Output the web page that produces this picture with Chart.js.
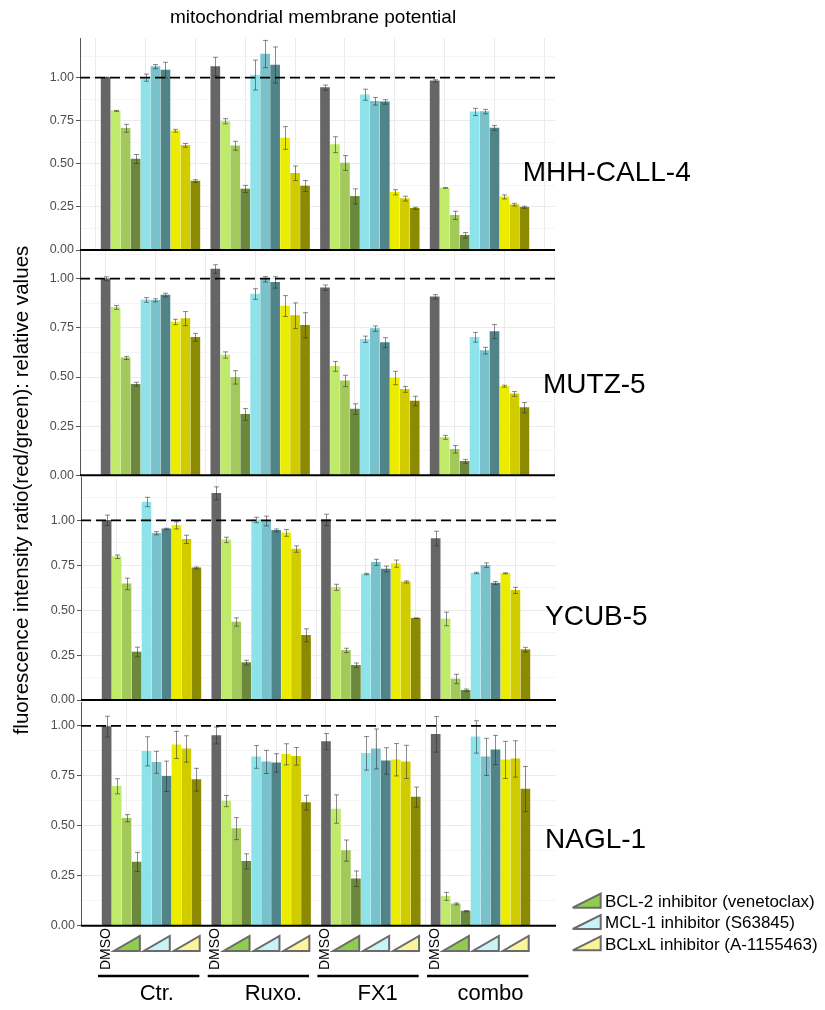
<!DOCTYPE html>
<html>
<head>
<meta charset="utf-8">
<title>mitochondrial membrane potential</title>
<script src="https://cdn.jsdelivr.net/npm/chart.js@4.4.1/dist/chart.umd.min.js"></script>
<style>
  html, body { margin: 0; padding: 0; background: #fff; }
  #page { position: relative; width: 825px; height: 1010px; overflow: hidden; background: #fff; }
  #page canvas { position: absolute; }
  #overlay { position: absolute; left: 0; top: 0; pointer-events: none; }
  #overlay text { font-family: 'Liberation Sans', Arial, Helvetica, sans-serif; fill: #000; }
</style>
</head>
<body>
<div id="page">
  <svg id="overlay" width="825" height="1010" xmlns="http://www.w3.org/2000/svg"></svg>
</div>
<script>
// ---------------------------------------------------------------------------
// Data
// ---------------------------------------------------------------------------
const chartTitle = 'mitochondrial membrane potential';
const yAxisTitle = 'fluorescence intensity ratio(red/green): relative values';
const groups = ['Ctr.', 'Ruxo.', 'FX1', 'combo'];
const cellLines = ['MHH-CALL-4', 'MUTZ-5', 'YCUB-5', 'NAGL-1'];
const controlLabel = 'DMSO';
const inhibitors = ['BCL-2 inhibitor (venetoclax)', 'MCL-1 inhibitor (S63845)', 'BCLxL inhibitor (A-1155463)'];
// bar order inside each group: DMSO, venetoclax x3 doses, S63845 x3, A-1155463 x3
const seriesNames = ['DMSO',
  'venetoclax low', 'venetoclax mid', 'venetoclax high',
  'S63845 low', 'S63845 mid', 'S63845 high',
  'A-1155463 low', 'A-1155463 mid', 'A-1155463 high'];
const yTickLabels = [0, 0.25, 0.5, 0.75, 1.0];
const referenceLevel = 1.0;

// relative values, one row of 10 bars per treatment group (Ctr., Ruxo., FX1, combo)
const mhhMean = [
  1.000, 0.807, 0.706, 0.528, 1.000, 1.064, 1.044, 0.692, 0.607, 0.400,
  1.064, 0.747, 0.605, 0.354, 1.015, 1.137, 1.073, 0.650, 0.445, 0.371,
  0.942, 0.611, 0.505, 0.311, 0.901, 0.863, 0.859, 0.335, 0.298, 0.242,
  0.981, 0.360, 0.201, 0.085, 0.801, 0.803, 0.708, 0.308, 0.263, 0.248
];
const mhhErr = [
  0.003, 0.003, 0.023, 0.026, 0.021, 0.012, 0.045, 0.008, 0.011, 0.008,
  0.054, 0.015, 0.026, 0.021, 0.087, 0.079, 0.105, 0.066, 0.042, 0.032,
  0.015, 0.046, 0.043, 0.044, 0.032, 0.022, 0.013, 0.015, 0.014, 0.006,
  0.007, 0.002, 0.024, 0.016, 0.021, 0.013, 0.014, 0.012, 0.008, 0.006
];
const mutzMean = [
  1.000, 0.854, 0.597, 0.463, 0.892, 0.890, 0.917, 0.780, 0.797, 0.702,
  1.049, 0.612, 0.498, 0.310, 0.922, 0.997, 0.981, 0.861, 0.812, 0.763,
  0.954, 0.554, 0.480, 0.337, 0.692, 0.746, 0.675, 0.495, 0.437, 0.378,
  0.908, 0.193, 0.132, 0.071, 0.702, 0.634, 0.731, 0.453, 0.414, 0.344
];
const mutzErr = [
  0.010, 0.010, 0.008, 0.010, 0.012, 0.008, 0.009, 0.014, 0.036, 0.020,
  0.022, 0.016, 0.034, 0.030, 0.027, 0.014, 0.029, 0.053, 0.065, 0.064,
  0.014, 0.025, 0.029, 0.027, 0.016, 0.014, 0.025, 0.034, 0.015, 0.024,
  0.011, 0.010, 0.019, 0.010, 0.025, 0.017, 0.036, 0.005, 0.012, 0.026
];
const ycubMean = [
  1.000, 0.797, 0.646, 0.267, 1.102, 0.928, 0.952, 0.972, 0.894, 0.735,
  1.150, 0.891, 0.434, 0.208, 1.002, 0.996, 0.944, 0.930, 0.840, 0.360,
  1.002, 0.627, 0.276, 0.193, 0.701, 0.766, 0.729, 0.759, 0.657, 0.455,
  0.898, 0.451, 0.117, 0.054, 0.707, 0.750, 0.651, 0.705, 0.610, 0.280
];
const ycubErr = [
  0.029, 0.010, 0.032, 0.027, 0.026, 0.009, 0.004, 0.020, 0.023, 0.005,
  0.036, 0.015, 0.023, 0.013, 0.015, 0.027, 0.008, 0.019, 0.018, 0.036,
  0.032, 0.017, 0.012, 0.013, 0.004, 0.017, 0.016, 0.020, 0.006, 0.002,
  0.041, 0.038, 0.026, 0.007, 0.004, 0.013, 0.009, 0.003, 0.017, 0.013
];
const naglMean = [
  0.997, 0.698, 0.538, 0.319, 0.873, 0.818, 0.748, 0.905, 0.885, 0.731,
  0.952, 0.624, 0.486, 0.322, 0.845, 0.820, 0.815, 0.858, 0.848, 0.616,
  0.922, 0.584, 0.376, 0.235, 0.863, 0.885, 0.825, 0.831, 0.820, 0.644,
  0.958, 0.147, 0.109, 0.073, 0.945, 0.845, 0.880, 0.830, 0.835, 0.684
];
const naglErr = [
  0.052, 0.038, 0.018, 0.048, 0.073, 0.055, 0.076, 0.068, 0.066, 0.057,
  0.042, 0.028, 0.055, 0.038, 0.057, 0.058, 0.046, 0.053, 0.044, 0.037,
  0.040, 0.071, 0.053, 0.039, 0.084, 0.100, 0.066, 0.081, 0.083, 0.050,
  0.089, 0.020, 0.005, 0.003, 0.081, 0.093, 0.073, 0.093, 0.091, 0.113
];

// ---------------------------------------------------------------------------
// Styling and layout
// ---------------------------------------------------------------------------
const FONT = "'Liberation Sans', Arial, Helvetica, sans-serif";
Chart.defaults.font.family = FONT;

const seriesColors = ['#666666',
  '#c0ea6a', '#a2c95a', '#6b893c',
  '#8ee2ea', '#79c2cc', '#508488',
  '#ecec00', '#d1cc00', '#8c8a00'];
const markerFills = ['#90cd4f', '#c8f3f7', '#faf59b'];

const BARS_PER_GROUP = 10;
const GROUP_STRIDE = 11;        // one empty slot between treatment groups
const X_MIN = -2.57, X_MAX = 45.07;
const PAD = 12;
const CANVAS_W = 560;

// pixel frame of every panel (plot area top/bottom), its y range and grid phase
const panelFrames = [
  { top: 38,  bottom: 250,   yMax: 1.230, gridPhase: -1, dx: 0 },
  { top: 251, bottom: 475.3, yMax: 1.141, gridPhase: 0,  dx: 0 },
  { top: 477, bottom: 700,   yMax: 1.241, gridPhase: 1,  dx: 1 },
  { top: 702, bottom: 925.7, yMax: 1.120, gridPhase: 2,  dx: 1 }
];
const panelLabelPos = [
  { x: 522.7, y: 180.7 }, { x: 543, y: 393 }, { x: 545, y: 625 }, { x: 545, y: 848 }
];
const groupLabelShift = [5.3, 12.3, 6.8, 9.9];

const panelMeans = [mhhMean, mutzMean, ycubMean, naglMean];
const panelErrs = [mhhErr, mutzErr, ycubErr, naglErr];

function isMajor(v) { return yTickLabels.some(t => Math.abs(t - v) < 1e-6); }

// error bars, reference line and zero baseline drawn on top of the bars
const overlayMarks = {
  id: 'overlayMarks',
  afterDatasetsDraw(chart) {
    const { ctx, chartArea, scales } = chart;
    const ys = scales.y;
    ctx.save();
    ctx.strokeStyle = 'rgba(45,45,45,0.55)';
    ctx.lineWidth = 1;
    chart.data.datasets.forEach((ds, di) => {
      const meta = chart.getDatasetMeta(di);
      meta.data.forEach((bar, i) => {
        const m = ds.data[i].y, e = ds.errors[i];
        const x = Math.round(bar.x) + 0.5;
        const yHi = ys.getPixelForValue(m + e);
        const yLo = ys.getPixelForValue(m - e);
        ctx.beginPath();
        ctx.moveTo(x, yHi); ctx.lineTo(x, yLo);
        ctx.moveTo(x - 2.5, yHi); ctx.lineTo(x + 2.5, yHi);
        ctx.moveTo(x - 2.5, yLo); ctx.lineTo(x + 2.5, yLo);
        ctx.stroke();
      });
    });
    // dashed reference line
    const yRef = ys.getPixelForValue(referenceLevel);
    ctx.strokeStyle = '#000';
    ctx.lineWidth = 1.8;
    ctx.setLineDash([10, 5]);
    ctx.beginPath();
    ctx.moveTo(chartArea.left, yRef); ctx.lineTo(chartArea.right, yRef);
    ctx.stroke();
    // zero baseline
    ctx.setLineDash([]);
    ctx.lineWidth = 2;
    const y0 = ys.getPixelForValue(0);
    ctx.beginPath();
    ctx.moveTo(chartArea.left, y0); ctx.lineTo(chartArea.right, y0);
    ctx.stroke();
    ctx.restore();
  }
};

const page = document.getElementById('page');
const charts = [];

panelFrames.forEach((frame, k) => {
  const h = Math.round(frame.bottom - frame.top) + 2 * PAD;
  const canvas = document.createElement('canvas');
  canvas.width = CANVAS_W; canvas.height = h;
  canvas.style.width = CANVAS_W + 'px'; canvas.style.height = h + 'px';
  canvas.style.left = frame.dx + 'px';
  canvas.style.top = (frame.top - PAD) + 'px';
  page.insertBefore(canvas, document.getElementById('overlay'));

  const means = panelMeans[k], errs = panelErrs[k];
  const datasets = seriesNames.map((name, s) => ({
    label: name,
    data: groups.map((g, gi) => ({ x: gi * GROUP_STRIDE + s, y: means[gi * BARS_PER_GROUP + s] })),
    errors: groups.map((g, gi) => errs[gi * BARS_PER_GROUP + s]),
    backgroundColor: seriesColors[s],
    borderWidth: 0,
    barThickness: 9,
    grouped: false
  }));

  const bottomPx = (frame.bottom - frame.top) + PAD;
  charts.push(new Chart(canvas, {
    type: 'bar',
    data: { datasets },
    plugins: [overlayMarks],
    options: {
      responsive: false,
      animation: false,
      events: [],
      layout: { padding: { top: PAD, bottom: h - bottomPx, left: 0, right: 5 } },
      plugins: { legend: { display: false }, tooltip: { enabled: false }, title: { display: false } },
      scales: {
        x: {
          type: 'linear', min: X_MIN, max: X_MAX, offset: false,
          grid: { color: '#ebebeb', lineWidth: 1, drawTicks: false, offset: false },
          border: { display: false },
          ticks: { display: false },
          afterBuildTicks: (scale) => {
            const t = [];
            for (let v = frame.gridPhase; v <= X_MAX; v += 5) if (v >= X_MIN) t.push({ value: v });
            scale.ticks = t;
          },
          afterFit: (scale) => { scale.height = 0; scale.paddingLeft = 0; scale.paddingRight = 0; }
        },
        y: {
          type: 'linear', min: 0, max: frame.yMax,
          grid: {
            color: (c) => (c.tick && isMajor(c.tick.value)) ? '#ebebeb' : '#f5f5f5',
            tickColor: (c) => (c.tick && isMajor(c.tick.value)) ? '#555' : 'rgba(0,0,0,0)',
            tickLength: 4, drawTicks: true, lineWidth: 1
          },
          border: { display: true, color: '#555', width: 1 },
          ticks: {
            autoSkip: false, padding: 2, color: '#4d4d4d', font: { size: 12.5 },
            callback: (v) => isMajor(v) ? Number(v).toFixed(2) : ''
          },
          afterBuildTicks: (scale) => {
            const t = [];
            for (let v = 0; v <= frame.yMax + 1e-9; v += 0.125) t.push({ value: Math.round(v * 1000) / 1000 });
            scale.ticks = t;
          },
          afterFit: (scale) => { scale.width = 80; }
        }
      }
    }
  }));
});

// ---------------------------------------------------------------------------
// Text, category markers and legend
// ---------------------------------------------------------------------------
const svg = document.getElementById('overlay');
const NS = 'http://www.w3.org/2000/svg';
function el(tag, attrs, text) {
  const e = document.createElementNS(NS, tag);
  for (const k in attrs) e.setAttribute(k, attrs[k]);
  if (text !== undefined) e.textContent = text;
  svg.appendChild(e);
  return e;
}
function ramp(cx, cy, w, hgt, fill) {
  const x0 = cx - w / 2, x1 = cx + w / 2, yb = cy + hgt / 2, yt = cy - hgt / 2;
  el('polygon', { points: `${x0},${yb} ${x1},${yb} ${x1},${yt}`, fill, stroke: '#6b6b6b',
    'stroke-width': 2, 'stroke-linejoin': 'miter' });
}

el('text', { x: 313, y: 23, 'font-size': 19, 'text-anchor': 'middle' }, chartTitle);
el('text', { transform: 'translate(27.5,490) rotate(-90)', 'font-size': 20.6, 'text-anchor': 'middle' }, yAxisTitle);

cellLines.forEach((name, k) => {
  el('text', { x: panelLabelPos[k].x, y: panelLabelPos[k].y, 'font-size': 28 }, name);
});

// category axis under the last panel
const lastChart = charts[charts.length - 1];
const xs = lastChart.scales.x;
const dxLast = panelFrames[panelFrames.length - 1].dx;
const px = (v) => xs.getPixelForValue(v) + dxLast;

groups.forEach((g, gi) => {
  const base = gi * GROUP_STRIDE;
  const c0 = px(base);
  el('text', { transform: `translate(${c0 + 3},970) rotate(-90)`, 'font-size': 14 }, controlLabel);
  inhibitors.forEach((inh, j) => {
    ramp(px(base + 2 + 3 * j) + 0.3, 943.5, 26, 15, markerFills[j]);
  });
  const xa = px(base) - 8.6, xb = px(base + BARS_PER_GROUP - 1) + 3;
  el('line', { x1: xa, y1: 976, x2: xb, y2: 976, stroke: '#000', 'stroke-width': 2.5 });
  const mid = px(base + (BARS_PER_GROUP - 1) / 2) + groupLabelShift[gi];
  el('text', { x: mid, y: 1000, 'font-size': 22, 'text-anchor': 'middle' }, g);
});

// legend
inhibitors.forEach((name, j) => {
  const cy = 900.7 + j * 21.3;
  ramp(586.7, cy, 28, 14, markerFills[j]);
  el('text', { x: 605, y: cy + 6.3, 'font-size': 17 }, name);
});
</script>
</body>
</html>
